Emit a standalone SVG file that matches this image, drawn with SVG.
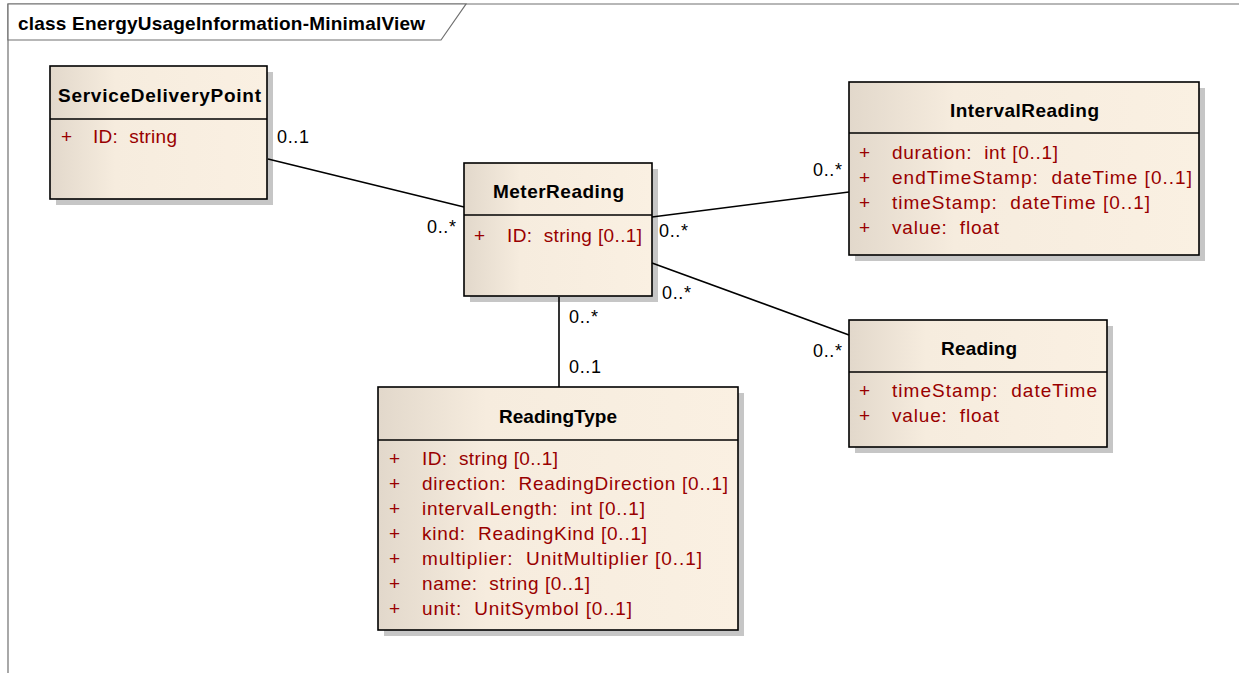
<svg xmlns="http://www.w3.org/2000/svg" width="1239" height="673" viewBox="0 0 1239 673">
<defs>
<linearGradient id="fill" x1="0" y1="0" x2="1" y2="0">
<stop offset="0" stop-color="#E2D8CB"/>
<stop offset="0.3" stop-color="#F6ECDE"/>
<stop offset="1" stop-color="#FAF0E2"/>
</linearGradient>
<style>
.box{fill:url(#fill);stroke:#000;stroke-width:1.6}
.shadow{fill:#C6C6C6}
.sep{stroke:#000;stroke-width:1.6}
.title{font-family:"Liberation Sans",Arial,sans-serif;font-weight:bold;font-size:19px;fill:#000;text-anchor:middle}
.attr{font-family:"Liberation Sans",Arial,sans-serif;font-size:19px;fill:#990000;white-space:pre}
.mult{font-family:"Liberation Sans",Arial,sans-serif;font-size:18px;fill:#000}
.conn{stroke:#000;stroke-width:1.6;fill:none}
.frame{stroke:#707070;stroke-width:1.2;fill:#fff}
</style>
</defs>
<rect width="1239" height="673" fill="#fff"/>
<g id="frame">
<path class="frame" d="M8,673 L8,4 L1245,4" fill="none"/>
<path class="frame" d="M8,4 L466,4 L441,40 L8,40 Z"/>
<text x="18" y="30" font-family="'Liberation Sans',Arial,sans-serif" font-weight="bold" font-size="19" textLength="407" lengthAdjust="spacing">class EnergyUsageInformation-MinimalView</text>
</g>
<g id="ServiceDeliveryPoint">
<rect class="shadow" x="56" y="72" width="217" height="133"/>
<rect class="box" x="50" y="66" width="217" height="133"/>
<line class="sep" x1="50" y1="119" x2="267" y2="119"/>
<text class="title" x="159.5" y="102" textLength="203" lengthAdjust="spacing">ServiceDeliveryPoint</text>
<text class="attr" x="61" y="143">+</text>
<text class="attr" x="93" y="143" textLength="84" lengthAdjust="spacing">ID:  string</text>
</g>
<g id="MeterReading">
<rect class="shadow" x="470" y="169" width="188" height="133"/>
<rect class="box" x="464" y="163" width="188" height="133"/>
<line class="sep" x1="464" y1="215" x2="652" y2="215"/>
<text class="title" x="558.5" y="198" textLength="131" lengthAdjust="spacing">MeterReading</text>
<text class="attr" x="474" y="242">+</text>
<text class="attr" x="507" y="242" textLength="135" lengthAdjust="spacing">ID:  string [0..1]</text>
</g>
<g id="IntervalReading">
<rect class="shadow" x="855" y="88" width="350" height="173"/>
<rect class="box" x="849" y="82" width="350" height="173"/>
<line class="sep" x1="849" y1="133" x2="1199" y2="133"/>
<text class="title" x="1024.5" y="117" textLength="149" lengthAdjust="spacing">IntervalReading</text>
<text class="attr" x="859" y="159">+</text>
<text class="attr" x="892" y="159" textLength="166" lengthAdjust="spacing">duration:  int [0..1]</text>
<text class="attr" x="859" y="184">+</text>
<text class="attr" x="892" y="184" textLength="300" lengthAdjust="spacing">endTimeStamp:  dateTime [0..1]</text>
<text class="attr" x="859" y="209">+</text>
<text class="attr" x="892" y="209" textLength="258" lengthAdjust="spacing">timeStamp:  dateTime [0..1]</text>
<text class="attr" x="859" y="234">+</text>
<text class="attr" x="892" y="234" textLength="107" lengthAdjust="spacing">value:  float</text>
</g>
<g id="Reading">
<rect class="shadow" x="855" y="326" width="258" height="127"/>
<rect class="box" x="849" y="320" width="258" height="127"/>
<line class="sep" x1="849" y1="372" x2="1107" y2="372"/>
<text class="title" x="979" y="355" textLength="76" lengthAdjust="spacing">Reading</text>
<text class="attr" x="859" y="397">+</text>
<text class="attr" x="892" y="397" textLength="205" lengthAdjust="spacing">timeStamp:  dateTime</text>
<text class="attr" x="859" y="422">+</text>
<text class="attr" x="892" y="422" textLength="107" lengthAdjust="spacing">value:  float</text>
</g>
<g id="ReadingType">
<rect class="shadow" x="384" y="393" width="360" height="243"/>
<rect class="box" x="378" y="387" width="360" height="243"/>
<line class="sep" x1="378" y1="440" x2="738" y2="440"/>
<text class="title" x="558" y="423" textLength="118" lengthAdjust="spacing">ReadingType</text>
<text class="attr" x="389" y="465">+</text>
<text class="attr" x="422" y="465" textLength="136" lengthAdjust="spacing">ID:  string [0..1]</text>
<text class="attr" x="389" y="490">+</text>
<text class="attr" x="422" y="490" textLength="306" lengthAdjust="spacing">direction:  ReadingDirection [0..1]</text>
<text class="attr" x="389" y="515">+</text>
<text class="attr" x="422" y="515" textLength="223" lengthAdjust="spacing">intervalLength:  int [0..1]</text>
<text class="attr" x="389" y="540">+</text>
<text class="attr" x="422" y="540" textLength="225" lengthAdjust="spacing">kind:  ReadingKind [0..1]</text>
<text class="attr" x="389" y="565">+</text>
<text class="attr" x="422" y="565" textLength="280" lengthAdjust="spacing">multiplier:  UnitMultiplier [0..1]</text>
<text class="attr" x="389" y="590">+</text>
<text class="attr" x="422" y="590" textLength="168" lengthAdjust="spacing">name:  string [0..1]</text>
<text class="attr" x="389" y="615">+</text>
<text class="attr" x="422" y="615" textLength="210" lengthAdjust="spacing">unit:  UnitSymbol [0..1]</text>
</g>
<g id="connectors">
<line class="conn" x1="268" y1="159" x2="464" y2="207"/>
<line class="conn" x1="652" y1="217" x2="849" y2="192"/>
<line class="conn" x1="652" y1="263" x2="849" y2="335"/>
<line class="conn" x1="559" y1="297" x2="559" y2="387"/>
<text class="mult" x="277" y="143" textLength="32" lengthAdjust="spacing">0..1</text>
<text class="mult" x="427" y="233" textLength="29" lengthAdjust="spacing">0..*</text>
<text class="mult" x="813" y="176" textLength="29" lengthAdjust="spacing">0..*</text>
<text class="mult" x="659" y="237" textLength="29" lengthAdjust="spacing">0..*</text>
<text class="mult" x="662" y="299" textLength="29" lengthAdjust="spacing">0..*</text>
<text class="mult" x="813" y="357" textLength="29" lengthAdjust="spacing">0..*</text>
<text class="mult" x="569" y="323" textLength="29" lengthAdjust="spacing">0..*</text>
<text class="mult" x="569" y="373" textLength="32" lengthAdjust="spacing">0..1</text>
</g>
</svg>
